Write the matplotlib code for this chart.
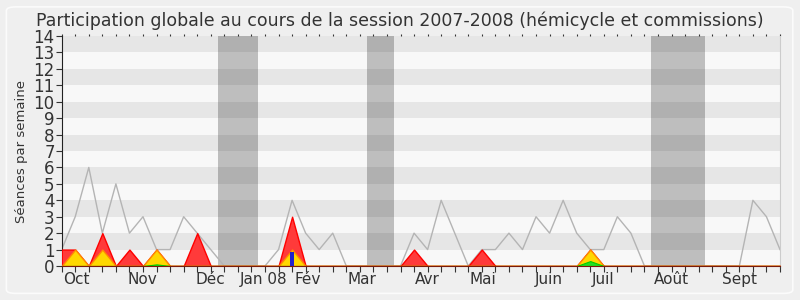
import matplotlib
matplotlib.use("Agg")
import matplotlib.pyplot as plt
from matplotlib.patches import FancyBboxPatch
import numpy as np

weeks = list(range(54))
total = [1, 3, 6, 2, 5, 2, 3, 1, 1, 3, 2, 1, 0, 0, 0, 0, 1, 4, 2, 1,
         2, 0, 0, 0, 0, 0, 2, 1, 4, 2, 0, 1, 1, 2, 1, 3, 2, 4, 2, 1,
         1, 3, 2, 0, 0, 0, 0, 0, 0, 0, 0, 4, 3, 1]
red = [1, 1, 0, 2, 0, 1, 0, 1, 0, 0, 2, 0, 0, 0, 0, 0, 0, 3, 0, 0,
       0, 0, 0, 0, 0, 0, 1, 0, 0, 0, 0, 1, 0, 0, 0, 0, 0, 0, 0, 1,
       0, 0, 0, 0, 0, 0, 0, 0, 0, 0, 0, 0, 0, 0]
yellow = [0, 1, 0, 1, 0, 0, 0, 1, 0, 0, 0, 0, 0, 0, 0, 0, 0, 1, 0, 0,
          0, 0, 0, 0, 0, 0, 0, 0, 0, 0, 0, 0, 0, 0, 0, 0, 0, 0, 0, 1,
          0, 0, 0, 0, 0, 0, 0, 0, 0, 0, 0, 0, 0, 0]
green = [0, 0, 0, 0, 0, 0, 0, 0.1, 0, 0, 0, 0, 0, 0, 0, 0, 0, 0, 0, 0,
         0, 0, 0, 0, 0, 0, 0, 0, 0, 0, 0, 0, 0, 0, 0, 0, 0, 0, 0, 0.3,
         0, 0, 0, 0, 0, 0, 0, 0, 0, 0, 0, 0, 0, 0]
blue_week = [17]
blue_val = [0.85]
vacations = [(11.5, 14.5), (22.5, 24.5), (43.5, 47.5)]
month_labels = ["Oct", "Nov", "Déc", "Jan 08", "Fév", "Mar", "Avr", "Mai",
                "Juin", "Juil", "Août", "Sept"]
month_pos = [1.11, 5.98, 10.97, 14.88, 18.15, 22.14, 26.96, 31.11,
             35.94, 39.97, 45.02, 50.03]

fig = plt.figure(figsize=(8, 3), dpi=100, facecolor="#efefef")
fig.patches.append(FancyBboxPatch((0.008, 0.022), 0.983, 0.955,
                                  boxstyle="round,pad=0,rounding_size=0.012",
                                  transform=fig.transFigure, facecolor="none",
                                  edgecolor="#fbfbfb", linewidth=1.2, zorder=0))
ax = fig.add_axes([0.0771, 0.1133, 0.8979, 0.7667])
ax.set_facecolor("#f8f8f8")
ax.set_xlim(0, 53)
ax.set_ylim(0, 14)
for k in range(7):
    ax.axhspan(2 * k + 1, 2 * k + 2, color="#e6e6e6", lw=0, zorder=0)
for a, b in vacations:
    ax.axvspan(a, b, color="black", alpha=0.23, lw=0, zorder=1)

ax.plot(weeks, total, color="#b4b4b4", lw=1, zorder=2)
ax.fill_between(weeks, red, color="#ff3a3a", edgecolor="#ff0000", lw=1, zorder=3)
ax.fill_between(weeks, yellow, color="#ffd700", edgecolor="#ff8c00", lw=1, zorder=4)
ax.fill_between(weeks, green, color="#22e022", edgecolor="#00cc00", lw=0.8, zorder=5)
ax.bar(blue_week, blue_val, width=0.33, color="#2222cc", zorder=6)

ax.spines["top"].set_visible(False)
ax.spines["right"].set_color("#cccccc")
ax.spines["left"].set_color("#222222")
ax.spines["bottom"].set_color("#7a1a0a")
ax.spines["bottom"].set_zorder(7)

ax.set_yticks(range(15))
ax.set_yticklabels([str(i) for i in range(15)], fontsize=12, color="#333333")
ax.tick_params(axis="y", length=4, pad=1, color="#333333")

ax.set_xticks(weeks)
ax.set_xticklabels([])
ax.tick_params(axis="x", which="major", length=4, direction="out", color="#333333",
               top=True, labeltop=False)
ax.set_xticks(month_pos, minor=True)
ax.set_xticklabels(month_labels, minor=True, fontsize=11, color="#333333")
ax.tick_params(axis="x", which="minor", length=0, pad=4)
for t in ax.xaxis.get_major_ticks():
    t.tick2line.set_markersize(1.5)
    t.tick2line.set_color("#555555")

ax.set_ylabel("Séances par semaine", fontsize=9.5, color="#333333", labelpad=4)
fig.text(0.5, 0.915, "Participation globale au cours de la session 2007-2008 (hémicycle et commissions)",
         ha="center", va="baseline", fontsize=12.5, color="#333333")

fig.savefig("out.png", dpi=100, facecolor=fig.get_facecolor())
